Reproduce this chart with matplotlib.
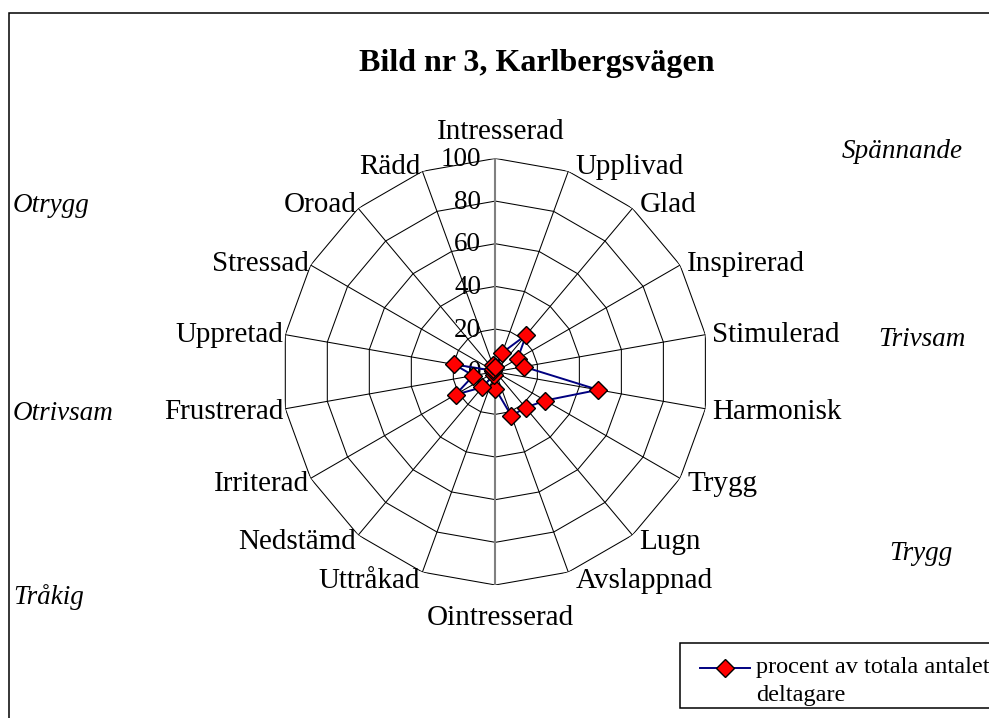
import numpy as np
import matplotlib
matplotlib.use('Agg')
import matplotlib.pyplot as plt
from matplotlib.patches import Rectangle
from matplotlib.lines import Line2D

# Category labels, clockwise from the top
categories = ['Intresserad', 'Upplivad', 'Glad', 'Inspirerad', 'Stimulerad',
              'Harmonisk', 'Trygg', 'Lugn', 'Avslappnad', 'Ointresserad',
              'Uttråkad', 'Nedstämd', 'Irriterad', 'Frustrerad', 'Uppretad',
              'Stressad', 'Oroad', 'Rädd']
# procent av totala antalet deltagare
values = [2, 9.5, 22.5, 12, 13.5, 49, 27, 22, 22, 8,
          1.5, 9.5, 21.5, 10.5, 19.5, 1, 1.5, 3.5]
ring_values = [20, 40, 60, 80, 100]
tick_labels = ['0', '20', '40', '60', '80', '100']

plt.rcParams['font.family'] = ['Liberation Serif', 'DejaVu Serif']

fig = plt.figure(figsize=(9.89, 7.18), dpi=100)
ax = fig.add_axes([0.2852, 0.1852, 0.4313, 0.5942], projection='polar')
ax.set_theta_zero_location('N')
ax.set_theta_direction(-1)
ax.set_ylim(0, 100)
ax.set_axis_off()

n = len(categories)
theta = np.deg2rad(np.arange(n) * 360.0 / n)
closed = np.append(theta, theta[0])

# polygon rings
for rv in ring_values:
    ax.plot(closed, [rv] * (n + 1), color='black', lw=0.75, zorder=1)

# spokes
for i, t in enumerate(theta):
    if i == 0 or i == n // 2:
        continue
    ax.plot([t, t], [0, 100], color='black', lw=0.75, zorder=1)
ax.plot([0, 0], [0, 100], color='#808080', lw=1.5, zorder=2)
ax.plot([np.pi, np.pi], [0, 100], color='#808080', lw=1.5, zorder=2)

# value axis labels
for lab, rv in zip(tick_labels, [0] + ring_values):
    ax.annotate(lab, xy=(0, rv), xytext=(-14, -1), textcoords='offset pixels',
                ha='right', va='center', fontsize=19.5, zorder=3)

# category labels
for lab, t in zip(categories, theta):
    s, c = np.sin(t), np.cos(t)
    if abs(s) < 0.1:
        ha = 'center'
        va = 'bottom' if c > 0 else 'top'
        dx = 5
        dy = 13 if c > 0 else -20
    else:
        ha = 'left' if s > 0 else 'right'
        va = 'center'
        dx = 7 if s > 0 else -2
        dy = 7 * c - 2
    ax.annotate(lab, xy=(t, 100), xytext=(dx, dy), textcoords='offset pixels',
                ha=ha, va=va, fontsize=21)

# data series
ax.plot(closed, values + values[:1], color='#000080', lw=1.4,
        marker='D', markersize=9, markerfacecolor='red', markeredgecolor='black',
        markeredgewidth=1, zorder=5)

# title
fig.text(537 / 989, 1 - 63 / 718, 'Bild nr 3, Karlbergsvägen', ha='center', va='center',
         fontsize=23, fontweight='bold')

# side labels
side = [('Spännande', 842, 151), ('Trivsam', 878, 339), ('Trygg', 889, 554),
        ('Otrygg', 13, 206), ('Otrivsam', 13, 414), ('Tråkig', 13, 597)]
for lab, x, y in side:
    fig.text(x / 989, 1 - y / 718, lab, ha='left', va='center', fontsize=19.5, style='italic')

# chart area border
fig.add_artist(Rectangle((8.5 / 989, -0.1), 1.2, 1.1 - 13 / 718, transform=fig.transFigure,
                         fill=False, edgecolor='black', lw=1.1))

# legend
fig.add_artist(Rectangle((680 / 989, 1 - 708 / 718), 0.5, 65 / 718, transform=fig.transFigure,
                         facecolor='white', edgecolor='black', lw=1.1))
fig.add_artist(Line2D([700 / 989, 750 / 989], [1 - 668 / 718, 1 - 668 / 718],
                      transform=fig.transFigure, color='#000080', lw=1.4))
fig.add_artist(Line2D([725 / 989], [1 - 668 / 718], transform=fig.transFigure,
                      marker='D', markersize=9, markerfacecolor='red',
                      markeredgecolor='black', markeredgewidth=1))
fig.text(756 / 989, 1 - 668 / 718, 'procent av totala antalet', ha='left', va='center',
         fontsize=17.5)
fig.text(756 / 989, 1 - 695 / 718, 'deltagare', ha='left', va='center', fontsize=17.5)

fig.savefig('out.png', dpi=100)
